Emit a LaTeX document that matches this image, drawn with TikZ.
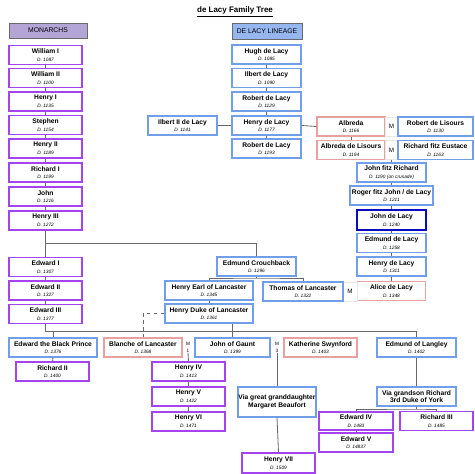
\documentclass[tikz,border=0pt]{standalone}
\usepackage{fontspec}
\setmainfont{Liberation Sans}
\usepackage{xcolor}
\usepackage{tikz}
\usetikzlibrary{positioning}
\definecolor{monpurple}{RGB}{163,68,240}
\definecolor{linblue}{RGB}{112,158,232}
\definecolor{wifepink}{RGB}{232,160,160}
\definecolor{deepblue}{RGB}{10,10,190}
\definecolor{lineGray}{RGB}{105,105,105}
\definecolor{hdrlilac}{RGB}{180,165,215}
\definecolor{hdrblue}{RGB}{150,182,240}
\newcommand{\namefont}{\fontsize{5.7}{6.6}\selectfont\bfseries}
\newcommand{\dt}[1]{{\fontsize{4.1}{4.6}\selectfont\mdseries\itshape D. #1}}
\newcommand{\mfont}{\fontsize{5.4}{6}\selectfont}
\tikzset{
  pbox/.style={draw=#1, line width=0.9pt, fill=white, align=center, inner sep=0pt,
               minimum width=73*0.03cm, minimum height=19*0.03cm, font=\namefont},
  mon/.style={pbox=monpurple},
  lin/.style={pbox=linblue},
  wife/.style={pbox=wifepink},
  wd/.style={minimum width=#1*0.03cm},
  ht/.style={minimum height=#1*0.03cm},
  hdr/.style={draw=lineGray, line width=0.7pt, fill=#1, inner sep=0pt,
              minimum height=15*0.03cm, font=\fontsize{5.8}{6.5}\selectfont},
  mcell/.style={draw=gray!18, line width=0.4pt, minimum width=13*0.03cm,
                minimum height=19*0.03cm, inner sep=0pt, font=\mfont},
  msmall/.style={inner sep=0pt, align=center, font=\fontsize{4}{5.5}\selectfont},
  conn/.style={draw=lineGray, line width=0.7pt}
}

\begin{document}
\begin{tikzpicture}[x=0.03cm, y=-0.03cm]
  \useasboundingbox (0,0) rectangle (474,474);

  % title and headers
  \node[font=\fontsize{6.8}{7.5}\selectfont\bfseries] (title) at (235,12) {\underline{de Lacy Family Tree}};
  \node[hdr=hdrlilac, wd=78] (hmon) at (48,30.5) {MONARCHS};
  \node[hdr=hdrblue, wd=70, ht=16] (hlin) at (267,31) {DE LACY LINEAGE};

  % monarchs
  \node[mon] (wil1) at (45.5,55) {William I\\\dt{1087}};
  \node[mon] (wil2) at (45.5,78) {William II\\\dt{1100}};
  \node[mon] (hen1) at (45.5,101.5) {Henry I\\\dt{1135}};
  \node[mon] (steph) at (45.5,125) {Stephen\\\dt{1154}};
  \node[mon] (hen2) at (45.5,148.5) {Henry II\\\dt{1189}};
  \node[mon] (ric1) at (45.5,172.5) {Richard I\\\dt{1199}};
  \node[mon] (john) at (45.5,196.5) {John\\\dt{1216}};
  \node[mon] (hen3) at (45.5,220.5) {Henry III\\\dt{1272}};
  \node[mon] (edw1) at (45.5,267) {Edward I\\\dt{1307}};
  \node[mon] (edw2) at (45.5,290.5) {Edward II\\\dt{1327}};
  \node[mon] (edw3) at (45.5,314) {Edward III\\\dt{1377}};

  % de lacy line
  \node[lin, wd=69] (hugh) at (266.5,54.5) {Hugh de Lacy\\\dt{1085}};
  \node[lin, wd=69] (ilb) at (266.5,78) {Ilbert de Lacy\\\dt{1090}};
  \node[lin, wd=69] (rob) at (266.5,101.5) {Robert de Lacy\\\dt{1129}};
  \node[lin, wd=69] (henl) at (266.5,125.5) {Henry de Lacy\\\dt{1177}};
  \node[lin, wd=69] (rob2) at (266.5,148.5) {Robert de Lacy\\\dt{1193}};
  \node[lin, wd=69] (ilb2) at (182.5,125.5) {Ilbert II de Lacy\\\dt{1141}};
  \node[wife, wd=68] (albr) at (351,126.5) {Albreda\\\dt{1166}};
  \node[mcell] (mA) at (391.5,126.5) {M};
  \node[lin, wd=75] (rlis) at (435.5,126.5) {Robert de Lisours\\\dt{1130}};
  \node[wife, wd=68] (albl) at (351,150) {Albreda de Lisours\\\dt{1194}};
  \node[mcell] (mB) at (391.5,150) {M};
  \node[lin, wd=75] (rfe) at (435.5,150) {Richard fitz Eustace\\\dt{1163}};
  \node[lin, wd=69] (jfr) at (391.5,172.5) {John fitz Richard\\{\fontsize{4.1}{4.6}\selectfont\mdseries\itshape D. 1190 (on crusade)}};
  \node[lin, wd=83] (rfj) at (391.5,195.5) {Roger fitz John / de Lacy\\\dt{1211}};
  \node[pbox=deepblue, wd=69, ht=20, line width=1.2pt] (jdl) at (391.5,220) {John de Lacy\\\dt{1240}};
  \node[lin, wd=69] (edl) at (391.5,243) {Edmund de Lacy\\\dt{1258}};
  \node[lin, wd=69] (hdl) at (391.5,266.5) {Henry de Lacy\\\dt{1311}};
  \node[wife, wd=68] (alice) at (391.5,291) {Alice de Lacy\\\dt{1348}};
  \node[mcell, wd=14] (mC) at (350,291.5) {M};

  % lancaster
  \node[lin, wd=79] (edc) at (256.5,266.5) {Edmund Crouchback\\\dt{1296}};
  \node[lin, wd=88] (hel) at (209,290.5) {Henry Earl of Lancaster\\\dt{1345}};
  \node[lin, wd=80] (thom) at (303,291.5) {Thomas of Lancaster\\\dt{1322}};
  \node[lin, wd=88] (hdk) at (209,313.5) {Henry Duke of Lancaster\\\dt{1361}};

  % children of edward iii
  \node[lin, wd=88] (ebp) at (53,347.5) {Edward the Black Prince\\\dt{1376}};
  \node[wife, wd=78] (blan) at (143,347.5) {Blanche of Lancaster\\\dt{1368}};
  \node[msmall] (m1) at (188,347.5) {M\\1};
  \node[lin, wd=75] (jog) at (232.5,347.5) {John of Gaunt\\\dt{1399}};
  \node[msmall] (m3) at (277,347.5) {M\\3};
  \node[wife, wd=73] (kat) at (320.5,347.5) {Katherine Swynford\\\dt{1403}};
  \node[lin, wd=79] (eol) at (416.5,347.5) {Edmund of Langley\\\dt{1402}};

  \node[mon] (ric2) at (52.5,371.5) {Richard II\\\dt{1400}};
  \node[mon] (hen4) at (188.5,371.5) {Henry IV\\\dt{1413}};
  \node[mon] (hen5) at (188.5,396.5) {Henry V\\\dt{1422}};
  \node[mon] (hen6) at (188.5,421.5) {Henry VI\\\dt{1471}};
  \node[lin, wd=78, ht=30] (viam) at (277,402) {Via great granddaughter\\Margaret Beaufort};
  \node[mon, ht=20] (hen7) at (278.5,463) {Henry VII\\\dt{1509}};
  \node[lin, wd=79] (viar) at (416.5,396.5) {Via grandson Richard\\3rd Duke of York};
  \node[mon, wd=74, ht=18] (edw4) at (356,421) {Edward IV\\\dt{1483}};
  \node[mon] (ric3) at (436.5,421) {Richard III\\\dt{1485}};
  \node[mon, wd=74] (edw5) at (356,442.5) {Edward V\\\dt{14837}};

  % connectors
  \foreach \a/\b in {wil1/wil2, wil2/hen1, hen1/steph, steph/hen2, hen2/ric1, ric1/john,
                     john/hen3, hen3/edw1, edw1/edw2, edw2/edw3, ebp/ric2,
                     hugh/ilb, ilb/rob, rob/henl, henl/rob2, albr/albl, mB/jfr,
                     jfr/rfj, rfj/jdl, jdl/edl, edl/hdl, hdl/alice, hel/hdk,
                     m1/hen4, hen4/hen5, hen5/hen6, m3/viam, viam/hen7,
                     eol/viar, edw4/edw5}
    \draw[conn] (\a.south) -- (\b.north);
  \draw[conn] (ilb2.east) -- (henl.west);
  \draw[conn] (henl.east) -- (albr.west);

  \coordinate (j3) at (45.5,243);
  \draw[conn] (j3) -| (edc.north);

  \coordinate (j4) at (45.5,331);
  \draw[conn] (edw3.south) -- (j4) -| (eol.north);
  \draw[conn] (ebp.north) -- (ebp.north |- j4);
  \draw[conn] (hdk.south -| jog.north) -- (jog.north);

  \coordinate (j5) at (256.5,278);
  \draw[conn] (edc.south) -- (j5);
  \draw[conn] (hel.north) |- (j5) -| (thom.north);

  \draw[conn, dashed] (hdk.west) -| (blan.north);

  \coordinate (j6) at (416.5,409);
  \draw[conn] (viar.south) -- (j6);
  \draw[conn] (edw4.north) |- (j6) -| (ric3.north);
\end{tikzpicture}
\end{document}
